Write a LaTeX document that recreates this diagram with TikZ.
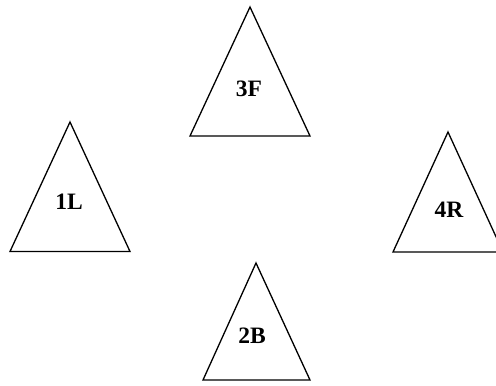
\documentclass[tikz,border=0pt]{standalone}
\usepackage{fontspec}
\setmainfont{Liberation Serif}
\begin{document}
\begin{tikzpicture}[x=1pt,y=-1pt,
  tri/.style={draw=black,line width=1.3pt,line join=miter},
  lbl/.style={font=\fontsize{23.5}{28}\selectfont\bfseries,inner sep=0pt}]
\useasboundingbox (0,0) rectangle (496,386);
\clip (0,0) rectangle (496,386);
\draw[tri] (250,7) -- (190,136) -- (310,136) -- cycle;
\node[lbl] (f3) at (249,88.5) {3F};
\draw[tri] (70,122) -- (10,251.5) -- (130,251.5) -- cycle;
\node[lbl] (l1) at (69,202) {1L};
\draw[tri] (448,132) -- (393,252) -- (503,252) -- cycle;
\node[lbl] (r4) at (449,210) {4R};
\draw[tri] (256,263) -- (203,380) -- (310,380) -- cycle;
\node[lbl] (b2) at (252,336) {2B};
\end{tikzpicture}
\end{document}
